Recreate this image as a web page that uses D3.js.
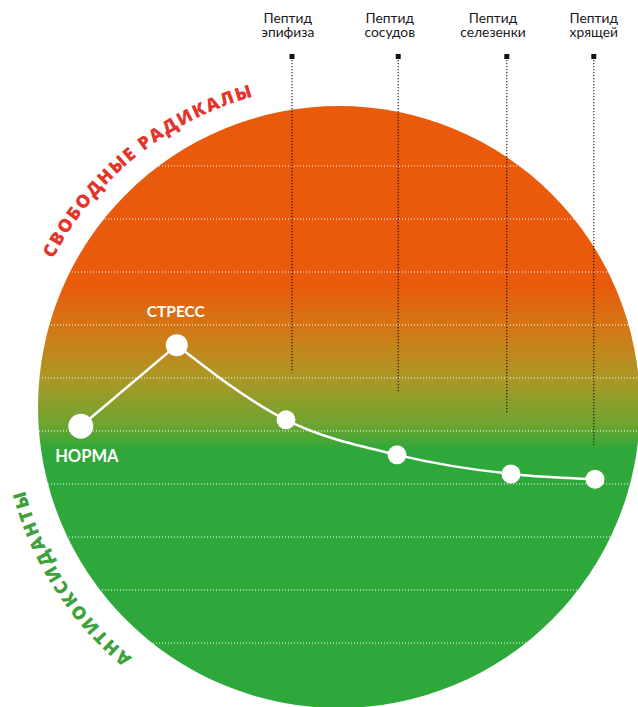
<!DOCTYPE html>
<html>
<head>
<meta charset="utf-8">
<script src="https://cdn.jsdelivr.net/npm/d3@7"></script>
<style>
  html, body { margin: 0; padding: 0; background: #fff; }
  svg { display: block; }
</style>
</head>
<body>
<svg id="chart" width="638" height="707"></svg>
<script>
// ---- data ----
const stateNames   = ["НОРМА", "СТРЕСС", "", "", "", ""];
const stateX       = [6.8, 22.8, 41, 59.5, 78.5, 92.5];   // stage (0–100)
const stateLevel   = [5.09, 6.62, 5.21, 4.55, 4.19, 4.09]; // balance level (1–10)
const peptideLine1 = ["Пептид", "Пептид", "Пептид", "Пептид"];
const peptideLine2 = ["эпифиза", "сосудов", "селезенки", "хрящей"];
const peptideX     = [42, 59.7, 77.8, 92.3];
const peptideLabelX= [41.3, 58.3, 75.5, 92.3];
const peptideEnd   = [6.11, 5.75, 5.32, 4.70];
const gridLevels   = [1, 2, 3, 4, 5, 6, 7, 8, 9, 10];
const topTitle     = "СВОБОДНЫЕ РАДИКАЛЫ";
const bottomTitle  = "АНТИОКСИДАНТЫ";

// ---- layout ----
const W = 638, H = 707;
const svg = d3.select("#chart");
const x = d3.scaleLinear().domain([0, 100]).range([40, 640]);
const y = d3.scaleLinear().domain([1, 10]).range([643, 166]);
const cx = 339, cy = 407, R = 301;

const defs = svg.append("defs");
const grad = defs.append("linearGradient").attr("id", "bg")
  .attr("gradientUnits", "userSpaceOnUse")
  .attr("x1", 0).attr("x2", 0).attr("y1", 285).attr("y2", 450);
[[0, "#E95A0C"], [0.3, "#CF7C18"], [0.57, "#AA9826"], [0.84, "#70A430"], [1, "#2EA83A"]]
  .forEach(([o, c]) => grad.append("stop").attr("offset", o).attr("stop-color", c));
defs.append("clipPath").attr("id", "cc")
  .append("circle").attr("cx", cx).attr("cy", cy).attr("r", R);

svg.append("circle").attr("cx", cx).attr("cy", cy).attr("r", R).attr("fill", "url(#bg)");

// grid lines (white dotted)
svg.append("g").attr("clip-path", "url(#cc)")
  .selectAll("line").data(gridLevels).join("line")
  .attr("x1", 0).attr("x2", W)
  .attr("y1", d => y(d)).attr("y2", d => y(d))
  .attr("stroke", "#fff").attr("stroke-width", 1.1)
  .attr("stroke-dasharray", "1,2");

// arc titles
function arcPath(mid, span, r) {
  const a0 = (mid - span) * Math.PI / 180, a1 = (mid + span) * Math.PI / 180;
  const p0 = [cx + r * Math.sin(a0), cy - r * Math.cos(a0)];
  const p1 = [cx + r * Math.sin(a1), cy - r * Math.cos(a1)];
  return `M${p0[0]},${p0[1]} A${r},${r} 0 0 1 ${p1[0]},${p1[1]}`;
}
defs.append("path").attr("id", "arcTop").attr("d", arcPath(-38.9, 45, 322));
defs.append("path").attr("id", "arcBot").attr("d", arcPath(-122.5, 45, 325));

svg.append("text")
  .attr("font-family", "'Open Sans', sans-serif").attr("font-weight", 800)
  .attr("font-size", 18).attr("letter-spacing", 1.8).attr("fill", "#E2352B")
  .append("textPath").attr("href", "#arcTop").attr("startOffset", "50%")
  .attr("text-anchor", "middle").text(topTitle);
svg.append("text")
  .attr("font-family", "'Open Sans', sans-serif").attr("font-weight", 800)
  .attr("font-size", 18).attr("letter-spacing", 2.2).attr("fill", "#3DA23C")
  .append("textPath").attr("href", "#arcBot").attr("startOffset", "50%")
  .attr("text-anchor", "middle").text(bottomTitle);

// peptide stems
const pep = svg.append("g");
pep.selectAll("line").data(peptideX).join("line")
  .attr("x1", d => x(d)).attr("x2", d => x(d))
  .attr("y1", 60).attr("y2", (d, i) => y(peptideEnd[i]))
  .attr("stroke", "#111").attr("stroke-width", 1.1)
  .attr("stroke-dasharray", "1.2,1.8");
pep.selectAll("rect").data(peptideX).join("rect")
  .attr("x", d => x(d) - 2.5).attr("y", 54).attr("width", 5).attr("height", 5)
  .attr("fill", "#111");
const lab = pep.selectAll("text").data(peptideLabelX).join("text")
  .attr("font-family", "Lato, sans-serif").attr("font-size", 13.8)
  .attr("fill", "#1a1a1a").attr("text-anchor", "middle");
lab.append("tspan").attr("x", d => x(d)).attr("y", 23).text((d, i) => peptideLine1[i]);
lab.append("tspan").attr("x", d => x(d)).attr("y", 37).text((d, i) => peptideLine2[i]);

// line
const pts = stateX.map((v, i) => [x(v), y(stateLevel[i])]);
svg.append("path")
  .attr("d", d3.line().curve(d3.curveLinear)(pts.slice(0, 2)))
  .attr("fill", "none").attr("stroke", "#fff").attr("stroke-width", 2.5);
svg.append("path")
  .attr("d", d3.line().curve(d3.curveMonotoneX)(pts.slice(1)))
  .attr("fill", "none").attr("stroke", "#fff").attr("stroke-width", 2.5);

svg.append("g").selectAll("circle").data(pts).join("circle")
  .attr("cx", d => d[0]).attr("cy", d => d[1])
  .attr("r", (d, i) => i === 0 ? 12.5 : i === 1 ? 11 : 9.5)
  .attr("fill", "#fff");

// state labels
svg.append("text").attr("x", pts[0][0] + 6).attr("y", pts[0][1] + 36)
  .attr("text-anchor", "middle").attr("font-family", "Lato, sans-serif")
  .attr("font-weight", 700).attr("font-size", 16.5).attr("fill", "#fff")
  .text(stateNames[0]);
svg.append("text").attr("x", pts[1][0] - 1).attr("y", pts[1][1] - 28)
  .attr("text-anchor", "middle").attr("font-family", "Lato, sans-serif")
  .attr("font-weight", 700).attr("font-size", 15.5).attr("fill", "#fff")
  .text(stateNames[1]);
</script>
</body>
</html>
